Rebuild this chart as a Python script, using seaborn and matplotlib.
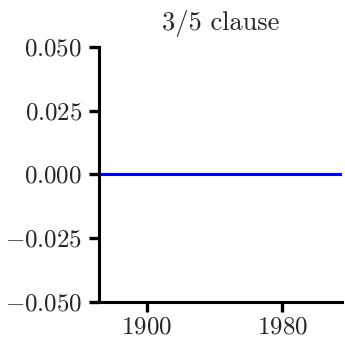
import matplotlib
matplotlib.use("Agg")
import matplotlib.pyplot as plt
import seaborn as sns
import pandas as pd

# data: the effect stays flat at zero across the period
years = [1872, 2015]
effect = [0.0, 0.0]
title = "3/5 clause"

df = pd.DataFrame({"year": years, "effect": effect})

sns.set_style("ticks")
plt.rcParams["font.family"] = ["cmr10", "DejaVu Serif"]
plt.rcParams["axes.formatter.use_mathtext"] = True
plt.rcParams["mathtext.fontset"] = "cm"

fig = plt.figure(figsize=(3.45, 3.45), dpi=100)
ax = fig.add_axes([0.287, 0.125, 0.704, 0.739])

sns.lineplot(data=df, x="year", y="effect", color="blue", linewidth=2.2, ax=ax)

ax.set_xlim(min(years), max(years))
ax.set_ylim(-0.05, 0.05)
ax.set_xticks([1900, 1980])
ax.set_yticks([-0.05, -0.025, 0, 0.025, 0.05])
ax.set_title(title, fontsize=19, pad=12)
ax.set_xlabel("")
ax.set_ylabel("")
ax.tick_params(labelsize=18, width=2.4, length=7, color="black")
ax.tick_params(axis="y", pad=5)
for s in ["left", "bottom"]:
    ax.spines[s].set_linewidth(2.2)
    ax.spines[s].set_color("black")
sns.despine(ax=ax)

fig.savefig("out.png", dpi=100)
